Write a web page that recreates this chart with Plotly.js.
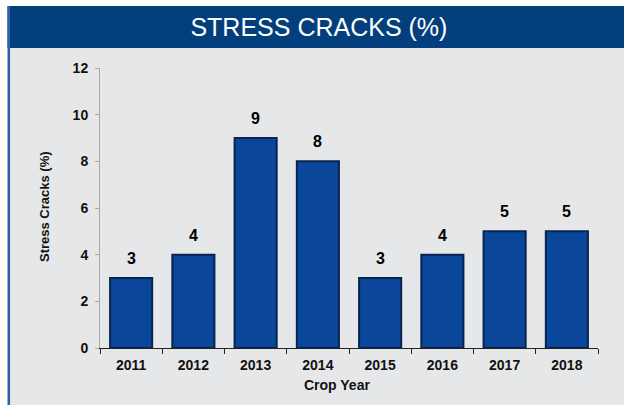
<!DOCTYPE html>
<html>
<head>
<meta charset="utf-8">
<script src="https://cdn.plot.ly/plotly-3.0.1.min.js"></script>
<style>html,body{margin:0;padding:0;background:#fff;}#chart{width:624px;height:405px;}</style>
</head>
<body>
<div id="chart"></div>
<script>
const cropYears = ["2011","2012","2013","2014","2015","2016","2017","2018"];
const stressCracks = [3, 4, 9, 8, 3, 4, 5, 5];
const yTickValues = [0, 2, 4, 6, 8, 10, 12];
const chartTitle = "STRESS CRACKS (%)";
const xTitle = "Crop Year";
const yTitle = "Stress Cracks (%)";

const W = 624, H = 405;
const M = {l: 100, r: 26, t: 68, b: 57};
const pw = W - M.l - M.r, ph = H - M.t - M.b;
const px = v => (v - M.l) / pw;
const py = v => (H - M.b - v) / ph;

const FONT = "Liberation Sans, Arial, sans-serif";

const trace = {
  type: "bar",
  x: cropYears,
  y: stressCracks,
  marker: {color: "#0a4699", line: {color: "#08244f", width: 2}},
  hoverinfo: "x+y"
};

const valueLabels = cropYears.map((c, i) => ({
  x: i, y: stressCracks[i], xref: "x", yref: "y",
  text: String(stressCracks[i]), showarrow: false,
  yanchor: "bottom", yshift: 9,
  font: {family: FONT, size: 16, color: "#000", weight: 700}
}));

const layout = {
  width: W, height: H,
  margin: M,
  paper_bgcolor: "#e6e7e9",
  plot_bgcolor: "#e6e7e9",
  showlegend: false,
  bargap: 0.324,
  title: {
    text: chartTitle,
    font: {family: FONT, size: 25, color: "#ffffff"},
    x: 318.9 / W, xanchor: "center", xref: "container",
    y: 1 - 27.5 / H, yanchor: "middle", yref: "container"
  },
  xaxis: {
    type: "category",
    range: [-0.5, cropYears.length - 0.5],
    showgrid: false, zeroline: false,
    showline: true, linecolor: "#222", linewidth: 1,
    ticks: "outside", ticklen: 5, tickcolor: "#222", tickwidth: 1,
    tickson: "boundaries",
    tickangle: 0,
    ticklabelstandoff: 4,
    tickfont: {family: FONT, size: 14, color: "#111", weight: 700}
  },
  yaxis: {
    range: [0, 12],
    tickvals: yTickValues,
    showgrid: false, zeroline: false,
    showline: true, linecolor: "#a8a8a8", linewidth: 1,
    ticks: "outside", ticklen: 4, tickcolor: "#a8a8a8",
    ticklabelstandoff: 4,
    tickfont: {family: FONT, size: 14, color: "#111", weight: 700}
  },
  shapes: [
    {type: "rect", xref: "paper", yref: "paper", x0: px(0), x1: px(W), y0: py(6), y1: py(0),
     fillcolor: "#ffffff", line: {width: 0}, layer: "above"},
    {type: "rect", xref: "paper", yref: "paper", x0: px(0), x1: px(7.5), y0: py(H), y1: py(0),
     fillcolor: "#ffffff", line: {width: 0}, layer: "above"},
    {type: "rect", xref: "paper", yref: "paper", x0: px(7.5), x1: px(W), y0: py(48), y1: py(6),
     fillcolor: "#023f7c", line: {width: 0}, layer: "above"},
    {type: "line", xref: "paper", yref: "paper", x0: px(8.8), x1: px(8.8), y0: py(H), y1: py(6),
     line: {color: "#2a62a8", width: 2.5}, layer: "above"}
  ],
  annotations: valueLabels.concat([
    {text: xTitle, xref: "paper", yref: "paper", x: px(336.5), y: py(385),
     xanchor: "center", yanchor: "middle", showarrow: false,
     font: {family: FONT, size: 14, color: "#111", weight: 700}},
    {text: yTitle, xref: "paper", yref: "paper", x: px(44), y: py(207),
     xanchor: "center", yanchor: "middle", textangle: -90, showarrow: false,
     font: {family: FONT, size: 13, color: "#111", weight: 700}}
  ])
};

Plotly.newPlot("chart", [trace], layout, {displayModeBar: false, staticPlot: true});
</script>
</body>
</html>
